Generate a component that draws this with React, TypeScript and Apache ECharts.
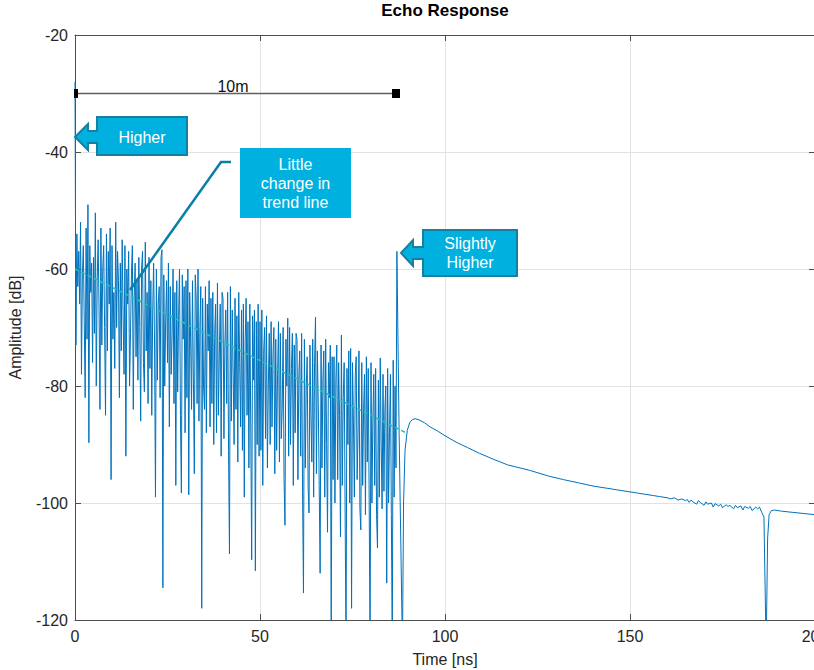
import React, { useEffect, useRef } from "react";
import * as echarts from "echarts";

// ---- Data ----
const SAMPLE_STEP_NS = 0.25;

// Noisy echo section, one array per 10 ns block (samples every 0.25 ns)
const noise00 = [
  -28, -73, -54, -63, -57, -66, -52, -78, -61, -56, -69, -82, -53, -72, -49, -89.7, -56, -64, -59, -76,
  -58, -71, -50.4, -80, -62, -55, -67, -84, -53, -73, -60, -56, -70, -85, -54, -74, -57, -66, -53, -96,
];
const noise10 = [
  -56, -72, -64, -77, -52, -70, -57, -62, -82, -59, -74, -55, -68, -78, -56, -92, -60, -66, -57, -80,
  -71, -61, -56, -84, -65, -59, -75, -62, -79, -58, -70, -86, -60, -57, -76, -81, -55.4, -74, -64, -83,
];
const noise20 = [
  -58, -77, -62, -85, -67, -59, -73, -99, -60, -79, -66, -63, -82, -58, -56.7, -114.5, -61, -80, -69, -62,
  -76, -59, -87, -63, -78, -71, -60, -83, -64, -97, -62, -81, -68, -60, -85, -98.3, -61, -72, -63, -88,
];
const noise30 = [
  -62, -82, -60, -98.6, -64, -72, -84, -62, -79, -95, -61, -65, -83, -60, -86, -70, -63, -118, -65, -80,
  -84, -63, -88, -66, -74, -62, -87, -65, -83, -64, -90, -71, -66, -88, -62.4, -85, -75, -66, -92, -64,
];
const noise40 = [
  -65, -89, -73, -67, -83, -64, -91, -108.7, -63, -86, -67, -78, -90, -65, -84, -68, -93, -64, -76, -87,
  -67, -91, -66, -99, -72, -65, -85, -69, -94, -66, -87, -109.7, -68, -79, -67, -111.6, -69, -90, -66, -92,
];
const noise50 = [
  -69, -91, -67, -97, -74, -70, -89, -68, -94, -80, -71, -90, -69, -87, -75, -70, -95, -72, -91, -78,
  -69, -93, -71, -89, -84, -70, -96, -103.8, -72, -80, -68.4, -92, -70, -90, -77, -71, -97, -73, -88, -71,
];
const noise60 = [
  -72, -96, -78, -74, -92, -71, -98, -115.4, -72, -94, -80, -75, -97, -101.7, -73, -85, -93, -72, -99, -76,
  -68.2, -95, -74, -83, -97, -112, -73, -94, -79, -74, -99, -72, -90, -105, -76, -82, -73, -125, -75, -96,
];
const noise70 = [
  -75, -100, -79, -73, -96, -76, -85, -105.8, -71.3, -97, -82, -76, -101, -125, -77, -90, -74, -100, -73.6, -118,
  -76, -86, -99, -78, -75, -96, -88, -74, -101, -104.6, -76, -97, -84, -78, -102, -75, -93, -77, -99, -125,
];
const noise80 = [
  -76, -100, -86, -78, -97, -77, -102, -107.7, -79, -99, -75.2, -90, -101, -78, -98, -84, -80, -113.7, -77, -100,
  -88, -78, -102, -125, -75.6, -99, -80, -94,
];
const noiseStarts = [0, 10, 20, 30, 40, 50, 60, 70, 80];
const noiseBlocks = [noise00, noise10, noise20, noise30, noise40, noise50, noise60, noise70, noise80];

// Echo peak, reflection hump and slow decay
const tailTime = [
  87.0, 87.6, 88.5, 88.8, 89.2, 89.8, 90.5, 91.3, 92.0, 93.0, 94.5, 96.0, 98.0, 100.0, 103, 106, 109.3, 113,
  117, 122.8, 128, 132, 136.4, 140, 144, 147, 150, 152, 154, 156, 158, 160, 161, 162, 163, 164, 165, 165.5,
  166, 166.5, 167, 168, 168.5, 169, 170, 170.5, 171, 172, 172.5, 173, 174, 174.5, 175, 176, 176.5, 177, 178,
  178.5, 179, 180, 180.5, 181, 182, 182.5, 183, 184, 184.5, 185, 185.6, 186.2, 186.8, 187.2, 187.6, 188.2,
  189, 191, 194, 197, 200,
];
const tailDb = [
  -57, -88, -125, -100, -91, -87.6, -86.2, -85.7, -85.6, -85.8, -86.3, -87, -87.7, -88.5, -89.6, -90.5, -91.5,
  -92.5, -93.5, -94.4, -95.4, -96.0, -96.6, -97.1, -97.5, -97.8, -98.1, -98.3, -98.5, -98.7, -98.9, -99.1,
  -99.3, -99.1, -99.5, -99.3, -99.6, -99.4, -99.9, -99.5, -99.8, -100.2, -99.6, -99.9, -100.4, -99.8, -100.2,
  -100.0, -100.7, -100.1, -100.5, -100.2, -100.8, -100.3, -100.6, -100.4, -101.0, -100.4, -100.8, -100.5,
  -101.2, -100.6, -100.9, -100.6, -101.3, -100.7, -101.0, -100.7, -101.6, -102.4, -125, -106, -102, -101.3,
  -101.2, -101.4, -101.6, -101.8, -102.0,
];

// Dashed trend line
const trendTime = [0, 89.5];
const trendDb = [-60, -88];

const X_MIN = 0, X_MAX = 200, X_STEP = 50;
const Y_MIN = -120, Y_MAX = -20, Y_STEP = 20;

const FONT = "'Liberation Sans', Arial, Helvetica, sans-serif";
const CYAN = "#00b1df";
const CYAN_EDGE = "#177fa2";

export default function App() {
  const ref = useRef<HTMLDivElement>(null);

  useEffect(() => {
    document.body.style.margin = "0";
    if (!ref.current) return;
    const chart = echarts.init(ref.current, undefined, { renderer: "svg" });

    const signal: [number, number][] = [];
    noiseBlocks.forEach((block, b) => {
      block.forEach((v, i) => signal.push([noiseStarts[b] + i * SAMPLE_STEP_NS, v]));
    });
    tailTime.forEach((t, i) => signal.push([t, tailDb[i]]));
    const trend = trendTime.map((t, i) => [t, trendDb[i]]);

    const axisCommon = {
      axisLine: { show: true, onZero: false, lineStyle: { color: "#4d4d4d", width: 1 } },
      axisTick: { show: true, inside: true, length: 6, lineStyle: { color: "#4d4d4d" } },
    };

    chart.setOption({
      animation: false,
      backgroundColor: "#ffffff",
      textStyle: { fontFamily: FONT },
      grid: { left: 75, top: 35, width: 740, height: 585, containLabel: false, outerBoundsMode: "none" },
      xAxis: [
        {
          type: "value", min: X_MIN, max: X_MAX, interval: X_STEP, position: "bottom",
          ...axisCommon,
          axisLabel: { color: "#262626", fontSize: 16, fontFamily: FONT, margin: 8 },
          splitLine: { show: true, lineStyle: { color: "#e2e2e2", width: 1 } },
          name: "Time [ns]", nameLocation: "middle", nameGap: 31,
          nameTextStyle: { color: "#262626", fontSize: 16, fontFamily: FONT },
        },
        {
          type: "value", min: X_MIN, max: X_MAX, interval: X_STEP, position: "top",
          ...axisCommon, axisLabel: { show: false }, splitLine: { show: false },
        },
      ],
      yAxis: [
        {
          type: "value", min: Y_MIN, max: Y_MAX, interval: Y_STEP, position: "left",
          ...axisCommon,
          axisLabel: { color: "#262626", fontSize: 16, fontFamily: FONT, margin: 7 },
          splitLine: { show: true, lineStyle: { color: "#e2e2e2", width: 1 } },
          name: "Amplitude [dB]", nameLocation: "middle", nameGap: 52,
          nameTextStyle: { color: "#262626", fontSize: 16, fontFamily: FONT },
        },
        {
          type: "value", min: Y_MIN, max: Y_MAX, interval: Y_STEP, position: "right",
          ...axisCommon, axisLabel: { show: false }, splitLine: { show: false },
        },
      ],
      series: [
        {
          type: "line", data: signal, showSymbol: false, symbol: "none", clip: true,
          lineStyle: { color: "#0072bd", width: 1 }, z: 3,
        },
        {
          type: "line", data: trend, showSymbol: false, symbol: "none", clip: true,
          lineStyle: { color: "#14c8b4", width: 1.6, type: [4, 3] }, z: 4,
        },
      ],
      graphic: [
        { type: "text", x: 445, y: 10, z: 100, style: { text: "Echo Response", fill: "#000", font: `bold 17px ${FONT}`, align: "center", verticalAlign: "middle" } },
        // 10 m marker
        { type: "line", z: 90, shape: { x1: 76, y1: 93.5, x2: 396, y2: 93.5 }, style: { stroke: "#5f5f5f", lineWidth: 1.5 } },
        { type: "rect", z: 91, shape: { x: 74, y: 89, width: 4, height: 9 }, style: { fill: "#000" } },
        { type: "rect", z: 91, shape: { x: 392, y: 89, width: 8, height: 9 }, style: { fill: "#000" } },
        { type: "text", x: 233, y: 86, z: 91, style: { text: "10m", fill: "#111", font: `16px ${FONT}`, align: "center", verticalAlign: "middle" } },
        // Higher callout
        {
          type: "polygon", z: 100,
          shape: { points: [[97, 117], [187, 117], [187, 155], [97, 155], [97, 143], [88, 143], [88, 150], [75, 137], [88, 124], [88, 131], [97, 131]] },
          style: { fill: CYAN, stroke: CYAN_EDGE, lineWidth: 2 },
        },
        { type: "text", x: 142, y: 137, z: 101, style: { text: "Higher", fill: "#fff", font: `16px ${FONT}`, align: "center", verticalAlign: "middle" } },
        // Little change callout
        { type: "polyline", z: 99, shape: { points: [[231, 162], [221, 162], [130, 290]] }, style: { stroke: "#0a7fa5", lineWidth: 2.5, fill: null } },
        { type: "rect", z: 100, shape: { x: 240, y: 148, width: 111, height: 70 }, style: { fill: CYAN } },
        { type: "text", x: 295.5, y: 183, z: 101, style: { text: "Little\nchange in\ntrend line", fill: "#fff", font: `16px ${FONT}`, lineHeight: 19, align: "center", verticalAlign: "middle" } },
        // Slightly Higher callout
        {
          type: "polygon", z: 100,
          shape: { points: [[423, 230], [517, 230], [517, 276], [423, 276], [423, 259], [413, 259], [413, 266], [401, 253], [413, 240], [413, 247], [423, 247]] },
          style: { fill: CYAN, stroke: CYAN_EDGE, lineWidth: 2 },
        },
        { type: "text", x: 470, y: 253, z: 101, style: { text: "Slightly\nHigher", fill: "#fff", font: `16px ${FONT}`, lineHeight: 19, align: "center", verticalAlign: "middle" } },
      ],
    });

    return () => chart.dispose();
  }, []);

  return <div ref={ref} style={{ width: 814, height: 670 }} />;
}
